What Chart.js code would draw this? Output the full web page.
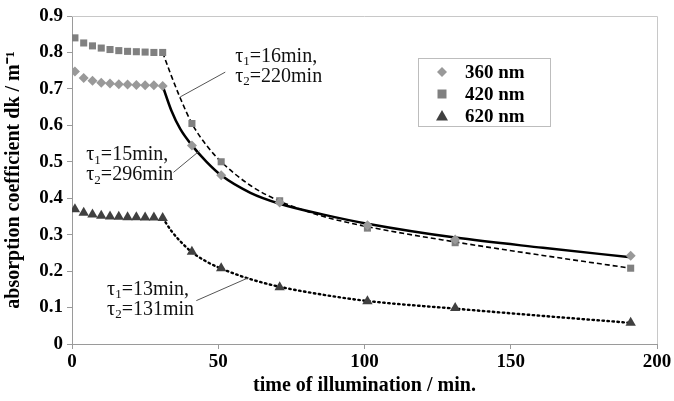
<!DOCTYPE html>
<html>
<head>
<meta charset="utf-8">
<script src="https://cdn.jsdelivr.net/npm/chart.js@4.4.1/dist/chart.umd.min.js"></script>
<style>
html, body { margin: 0; padding: 0; background: #fff; }
#wrap { width: 674px; height: 401px; }
</style>
</head>
<body>
<div id="wrap"><canvas id="absChart" width="674" height="401"></canvas></div>
<script>
// measured points (time in min, absorption coefficient in 1/m)
var times = [1, 4, 7, 10, 13, 16, 19, 22, 25, 28, 31, 41, 51, 71, 101, 131, 191];
var abs360 = [0.748, 0.73, 0.722, 0.717, 0.715, 0.713, 0.712, 0.711, 0.71, 0.71, 0.708, 0.545, 0.463, 0.388, 0.326, 0.287, 0.242];
var abs420 = [0.84, 0.826, 0.818, 0.812, 0.808, 0.805, 0.803, 0.802, 0.801, 0.8, 0.8, 0.605, 0.5, 0.393, 0.318, 0.278, 0.208];
var abs620 = [0.37, 0.36, 0.355, 0.352, 0.35, 0.349, 0.348, 0.348, 0.347, 0.347, 0.346, 0.253, 0.208, 0.156, 0.117, 0.099, 0.058];

// fitted curves
var fitTimes = [31, 34, 37, 41, 46, 51, 61, 71, 86, 101, 131, 161, 191];
var fit360 = [0.708, 0.64, 0.59, 0.545, 0.5, 0.463, 0.415, 0.385, 0.355, 0.33, 0.292, 0.264, 0.238];
var fit420 = [0.8, 0.735, 0.675, 0.605, 0.545, 0.5, 0.435, 0.392, 0.35, 0.322, 0.28, 0.243, 0.208];
var fit620 = [0.346, 0.31, 0.282, 0.252, 0.226, 0.207, 0.178, 0.157, 0.135, 0.118, 0.097, 0.077, 0.058];

var xTicks = [0, 50, 100, 150, 200];
var yTicks = [0, 0.1, 0.2, 0.3, 0.4, 0.5, 0.6, 0.7, 0.8, 0.9];
var legendLabels = ["360 nm", "420 nm", "620 nm"];
var tau1Labels = ["16", "15", "13"];
var tau2Labels = ["220", "296", "131"];

var SERIF = '"Liberation Serif", "Times New Roman", serif';

function pts(xs, ys) {
    return xs.map(function (x, i) { return { x: x, y: ys[i] }; });
}

function drawMarker(ctx, kind, x, y, color) {
    ctx.save();
    ctx.fillStyle = color;
    ctx.beginPath();
    if (kind == "diamond") {
        ctx.moveTo(x, y - 5); ctx.lineTo(x + 5, y); ctx.lineTo(x, y + 5); ctx.lineTo(x - 5, y);
    } else if (kind == "square") {
        ctx.rect(x - 4.5, y - 4.5, 9, 9);
    } else {
        ctx.moveTo(x, y - 6); ctx.lineTo(x + 6, y + 4.5); ctx.lineTo(x - 6, y + 4.5);
    }
    ctx.closePath();
    ctx.fill();
    ctx.restore();
}

function drawTau(ctx, x, y, sub, rest) {
    ctx.font = "20px " + SERIF;
    ctx.fillText("\u03c4", x, y);
    x += ctx.measureText("\u03c4").width;
    ctx.font = "13px " + SERIF;
    ctx.fillText(sub, x, y + 5);
    x += ctx.measureText(sub).width;
    ctx.font = "20px " + SERIF;
    ctx.fillText(rest, x, y);
}

var extrasPlugin = {
    id: "extras",
    afterDraw: function (chart) {
        var ctx = chart.ctx, a = chart.chartArea;
        var xs = chart.scales.x, ys = chart.scales.y;
        ctx.save();
        // light frame on top and right
        ctx.strokeStyle = "#c8c8c8";
        ctx.lineWidth = 1;
        ctx.beginPath();
        ctx.moveTo(a.left, a.top + 0.5);
        ctx.lineTo(a.right + 0.5, a.top + 0.5);
        ctx.lineTo(a.right + 0.5, a.bottom);
        ctx.stroke();

        // annotations: label anchor and leader line in data units
        var notes = [
            { lx: 55.8, ly: 0.789, from: [52.4, 0.746], to: [37.0, 0.678] },
            { lx: 4.9, ly: 0.518, from: [34.7, 0.471], to: [43.6, 0.53] },
            { lx: 12.0, ly: 0.148, from: [42.5, 0.119], to: [60.4, 0.182] }
        ];
        notes.forEach(function (n, i) {
            ctx.strokeStyle = "#555";
            ctx.lineWidth = 1;
            ctx.beginPath();
            ctx.moveTo(xs.getPixelForValue(n.from[0]), ys.getPixelForValue(n.from[1]));
            ctx.lineTo(xs.getPixelForValue(n.to[0]), ys.getPixelForValue(n.to[1]));
            ctx.stroke();
            var px = xs.getPixelForValue(n.lx), py = ys.getPixelForValue(n.ly);
            ctx.fillStyle = "#111";
            ctx.textBaseline = "middle";
            ctx.textAlign = "left";
            drawTau(ctx, px, py, "1", "=" + tau1Labels[i] + "min,");
            drawTau(ctx, px, py + 20, "2", "=" + tau2Labels[i] + "min");
        });

        // legend box
        var bx = a.left + 346, by = a.top + 42;
        ctx.strokeStyle = "#bdbdbd";
        ctx.strokeRect(bx + 0.5, by + 0.5, 132, 68);
        var kinds = ["diamond", "square", "triangle"];
        var colors = ["#999999", "#808080", "#404040"];
        ctx.font = "bold 19px " + SERIF;
        ctx.fillStyle = "#000";
        legendLabels.forEach(function (lab, i) {
            var yy = by + 14 + i * 22;
            drawMarker(ctx, kinds[i], bx + 24, yy, colors[i]);
            ctx.fillStyle = "#000";
            ctx.fillText(lab, bx + 47, yy + 1);
        });
        ctx.restore();
    }
};

var tickFont = { family: SERIF, size: 19, weight: "bold" };
var titleFont = { family: SERIF, size: 20, weight: "bold" };

new Chart(document.getElementById("absChart"), {
    type: "scatter",
    data: {
        datasets: [
            { label: legendLabels[0], data: pts(times, abs360), pointStyle: "rectRot", pointRadius: 5, backgroundColor: "#999999", borderColor: "#999999", borderWidth: 0, showLine: false },
            { label: legendLabels[1], data: pts(times, abs420), pointStyle: "rect", pointRadius: 5, backgroundColor: "#808080", borderColor: "#808080", borderWidth: 0, showLine: false },
            { label: legendLabels[2], data: pts(times, abs620), pointStyle: "triangle", pointRadius: 6, backgroundColor: "#404040", borderColor: "#404040", borderWidth: 0, showLine: false },
            { label: "fit 360", data: pts(fitTimes, fit360), showLine: true, pointRadius: 0, borderColor: "#000", borderWidth: 2.5, cubicInterpolationMode: "monotone" },
            { label: "fit 420", data: pts(fitTimes, fit420), showLine: true, pointRadius: 0, borderColor: "#000", borderWidth: 1.6, borderDash: [5, 3], cubicInterpolationMode: "monotone" },
            { label: "fit 620", data: pts(fitTimes, fit620), showLine: true, pointRadius: 0, borderColor: "#000", borderWidth: 2.4, borderDash: [1.5, 3.5], borderCapStyle: "round", cubicInterpolationMode: "monotone" }
        ]
    },
    options: {
        responsive: false,
        animation: false,
        devicePixelRatio: 1,
        layout: { padding: { top: 16, right: 17, left: 0, bottom: 0 } },
        plugins: { legend: { display: false }, tooltip: { enabled: false } },
        scales: {
            x: {
                type: "linear", min: 0, max: 200,
                afterBuildTicks: function (s) { s.ticks = xTicks.map(function (v) { return { value: v }; }); },
                afterFit: function (s) { s.height = 57; },
                ticks: { color: "#000", font: tickFont, padding: 2, maxRotation: 0 },
                grid: { drawOnChartArea: false, drawTicks: true, tickLength: 5, color: "#9a9a9a" },
                border: { color: "#9a9a9a" },
                title: { display: true, text: "time of illumination / min.", color: "#000", font: titleFont, padding: { top: 0, bottom: 3 } }
            },
            y: {
                type: "linear", min: 0, max: 0.9,
                afterBuildTicks: function (s) { s.ticks = yTicks.map(function (v) { return { value: v }; }); },
                afterFit: function (s) { s.width = 72; },
                ticks: { color: "#000", font: tickFont, padding: 4, callback: function (v) { return v === 0 ? "0" : v.toFixed(1); } },
                grid: { drawOnChartArea: false, drawTicks: true, tickLength: 5, color: "#9a9a9a" },
                border: { color: "#9a9a9a" },
                title: { display: true, text: "absorption coefficient dk / m\u207b\u00b9", color: "#000", font: titleFont, padding: { top: 2, bottom: 0 } }
            }
        }
    },
    plugins: [extrasPlugin]
});
</script>
</body>
</html>
